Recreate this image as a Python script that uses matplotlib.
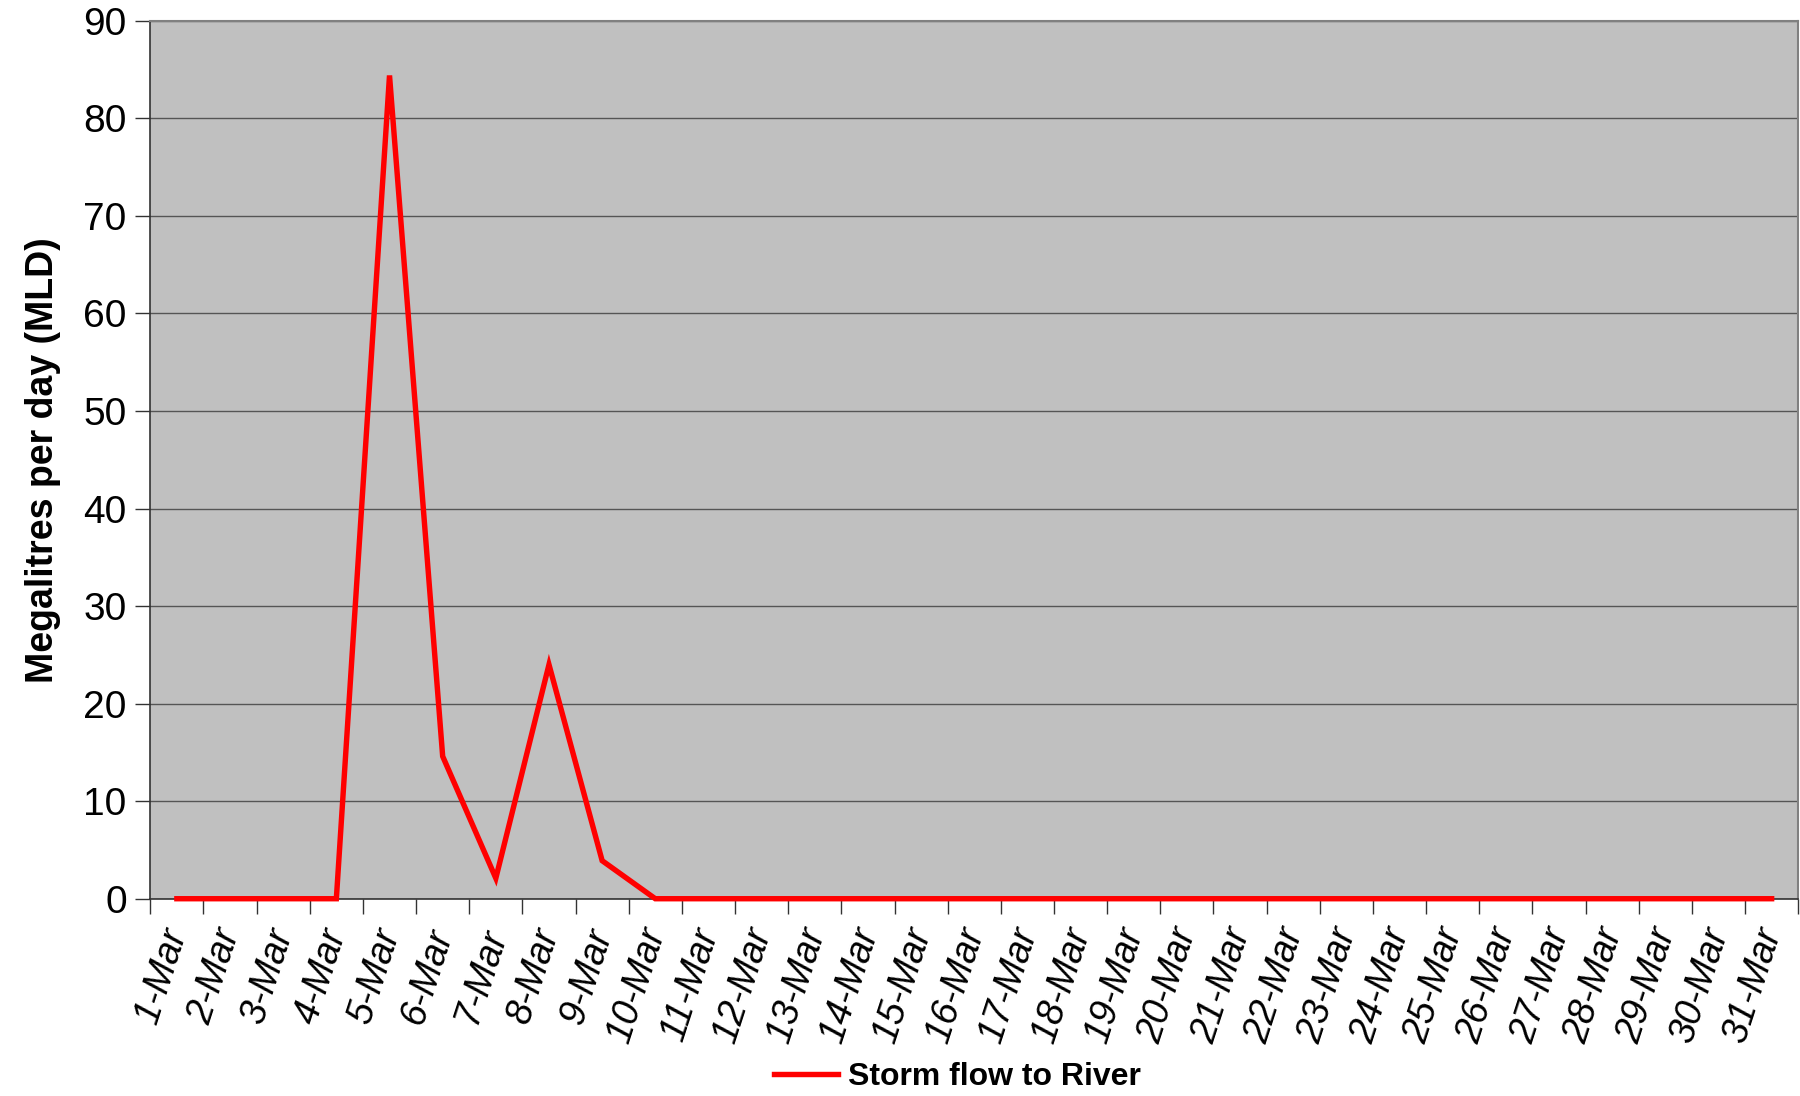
import matplotlib
matplotlib.use("Agg")
import matplotlib.pyplot as plt
import numpy as np

days = [f"{d}-Mar" for d in range(1, 32)]
storm_flow = [0, 0, 0, 0, 84.4, 14.6, 2.1, 24.0, 3.9, 0,
              0, 0, 0, 0, 0, 0, 0, 0, 0, 0,
              0, 0, 0, 0, 0, 0, 0, 0, 0, 0, 0]
yticks = list(range(0, 91, 10))

plt.rcParams['font.family'] = ['Liberation Sans', 'DejaVu Sans']

fig = plt.figure(figsize=(18, 10.96), dpi=100)
ax = fig.add_axes([0.0835, 0.18, 0.9155, 0.801])
ax.set_facecolor('#C0C0C0')

x = np.arange(len(days)) + 0.5
line, = ax.plot(x, storm_flow, color='#FF0000', lw=3.9, solid_joinstyle='miter',
                label='Storm flow to River', clip_on=False, zorder=3)

ax.set_xlim(0, len(days))
ax.set_ylim(0, 90)
ax.set_yticks(yticks)
ax.set_yticklabels([str(v) for v in yticks], fontsize=28)
ax.yaxis.grid(True, color='#555555', lw=1.0)
ax.set_axisbelow(True)

ax.set_xticks(np.arange(0, len(days) + 1))
ax.set_xticklabels([])
ax.set_xticks(x, minor=True)
ax.set_xticklabels(days, minor=True, rotation=72, ha='right', va='center',
                   rotation_mode='anchor', fontsize=27, style='italic')
ax.tick_params(axis='x', which='major', length=11, width=1, color='#333333', direction='out')
ax.tick_params(axis='x', which='minor', length=0, pad=22)
ax.tick_params(axis='y', length=11, width=1, color='#333333', pad=6)

for s in ['left', 'bottom']:
    ax.spines[s].set_color('#333333')
    ax.spines[s].set_linewidth(1.2)
for s in ['top', 'right']:
    ax.spines[s].set_color('#808080')
    ax.spines[s].set_linewidth(1.5)

ax.set_ylabel('Megalitres per day (MLD)', fontsize=27, fontweight='bold', labelpad=16)

fig.legend(handles=[line], loc='center', bbox_to_anchor=(0.532, 0.017), frameon=False,
           prop={'size': 23, 'weight': 'bold'}, handlelength=2.0, handletextpad=0.3)

fig.savefig('out.png', dpi=100)
